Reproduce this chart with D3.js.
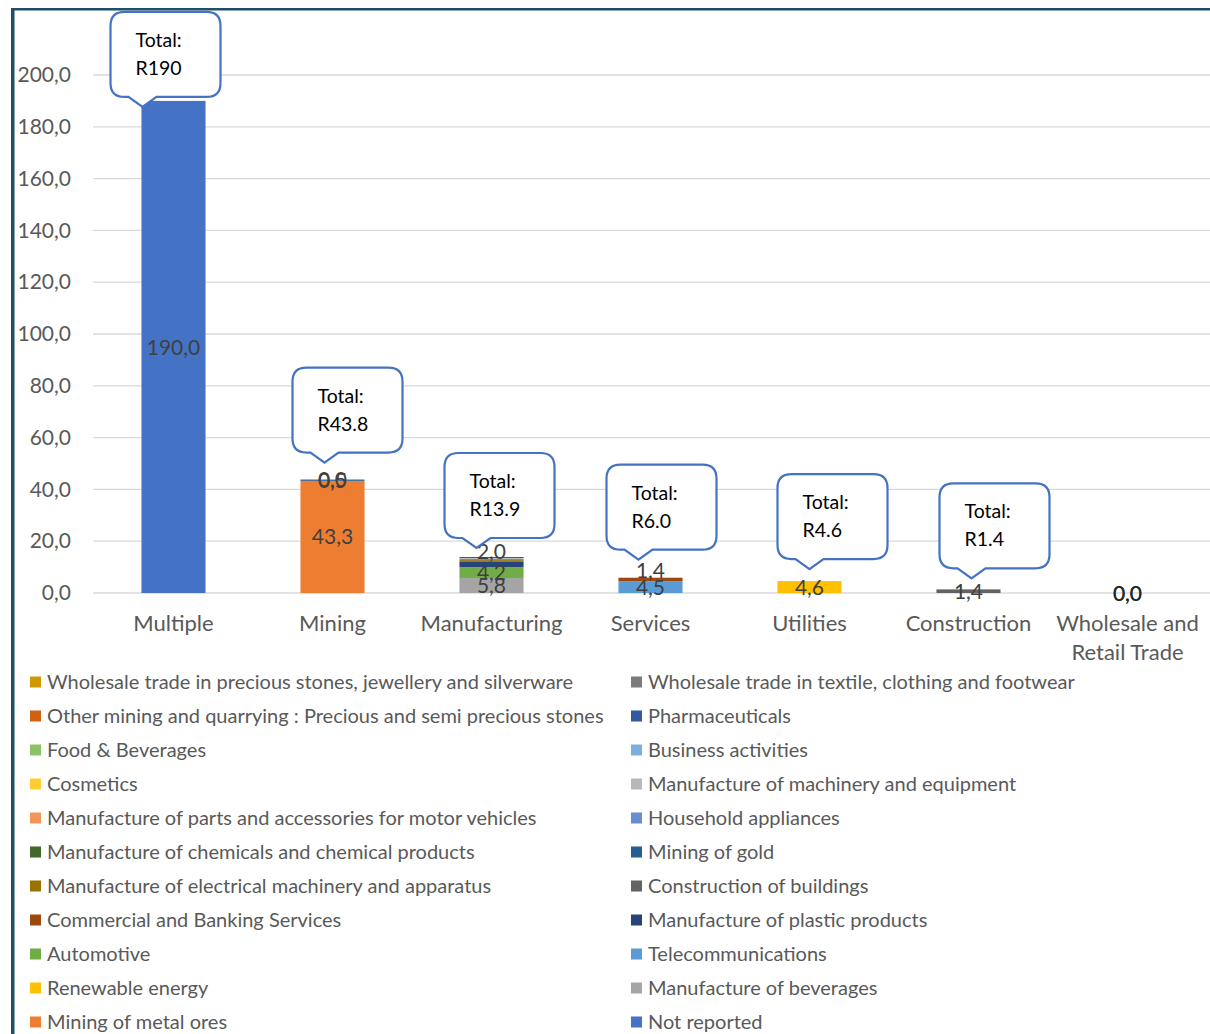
<!DOCTYPE html>
<html>
<head>
<meta charset="utf-8">
<script src="https://cdn.jsdelivr.net/npm/d3@7"></script>
<style>
  html, body { margin: 0; padding: 0; background: #fff; }
  svg { display: block; font-family: Lato, "Open Sans", sans-serif; }
</style>
</head>
<body>
<svg id="chart" width="1210" height="1034"></svg>
<script>
// Industry categories along the x axis
const categories = ["Multiple", "Mining", "Manufacturing", "Services", "Utilities", "Construction", "Wholesale and Retail Trade"];

// Series, in legend order (the stack is built from the last one upwards)
const seriesNames = [
  "Wholesale trade in precious stones, jewellery and silverware",
  "Wholesale trade in textile, clothing and footwear",
  "Other mining and quarrying : Precious and semi precious stones",
  "Pharmaceuticals",
  "Food & Beverages",
  "Business activities",
  "Cosmetics",
  "Manufacture of machinery and equipment",
  "Manufacture of parts and accessories for motor vehicles",
  "Household appliances",
  "Manufacture of chemicals and chemical products",
  "Mining of gold",
  "Manufacture of electrical machinery and apparatus",
  "Construction of buildings",
  "Commercial and Banking Services",
  "Manufacture of plastic products",
  "Automotive",
  "Telecommunications",
  "Renewable energy",
  "Manufacture of beverages",
  "Mining of metal ores",
  "Not reported"
];

// Values (R billion) per series, one entry per category; null = no entry
const seriesValues = [
  [null, null, null, null, null, null, 0.0],
  [null, null, null, null, null, null, 0.0],
  [null, 0.0, null, null, null, null, null],
  [null, null, 0.4, null, null, null, null],
  [null, null, null, null, null, null, null],
  [null, null, null, null, null, null, null],
  [null, null, null, null, null, null, null],
  [null, null, 0.3, null, null, null, null],
  [null, null, null, null, null, null, null],
  [null, null, 0.5, null, null, null, null],
  [null, null, null, null, null, null, null],
  [null, 0.5, null, null, null, null, null],
  [null, null, 0.7, null, null, null, null],
  [null, null, null, null, null, 1.4, null],
  [null, null, null, 1.4, null, null, null],
  [null, null, 2.0, null, null, null, null],
  [null, null, 4.2, null, null, null, null],
  [null, null, null, 4.5, null, null, null],
  [null, null, null, null, 4.6, null, null],
  [null, null, 5.8, null, null, null, null],
  [null, 43.3, null, null, null, null, null],
  [190.0, null, null, null, null, null, null]
];

// Reported totals shown in the callouts
const totalLabels = ["R190", "R43.8", "R13.9", "R6.0", "R4.6", "R1.4", null];

// Y axis ticks
const yTicks = [0, 20, 40, 60, 80, 100, 120, 140, 160, 180, 200];

// Segment colours, in legend order
const seriesColors = [
  "#CC9A00", "#7B7B7B", "#D26012", "#335AA1", "#8CC168", "#7CAFDD",
  "#FFCD33", "#B7B7B7", "#F1975A", "#698ED0", "#43682B", "#255E91",
  "#997300", "#636363", "#9E480E", "#264478", "#70AD47", "#5B9BD5",
  "#FFC000", "#A5A5A5", "#ED7D31", "#4472C4"
];

// Small manufacturing segments carry no value label
const unlabelled = [
  ["Manufacturing", "Pharmaceuticals"],
  ["Manufacturing", "Manufacture of machinery and equipment"],
  ["Manufacturing", "Household appliances"],
  ["Manufacturing", "Manufacture of electrical machinery and apparatus"]
];

// Value labels nudged upwards out of thin segments (pixels)
const labelShift = [
  ["Manufacturing", "Manufacture of plastic products", -13],
  ["Services", "Commercial and Banking Services", -9]
];

// Callout placement: tip offset from bar centre (dx) and from bar top (dy)
const calloutLayout = [
  { dx: -31, dy: 6 }, { dx: -8, dy: -17 }, { dx: -15, dy: -9 },
  { dx: -12, dy: -18 }, { dx: 0, dy: -12 }, { dx: 3, dy: -11 }, null
];

const svg = d3.select("#chart");
const fmt = v => d3.format(".1f")(v).replace(".", ",");

const x = d3.scaleBand()
  .domain(categories)
  .range([94, 1207])
  .paddingInner(0.597)
  .paddingOuter(0.2985);

const y = d3.scaleLinear().domain([0, 200]).range([593, 75]);

// Frame lines
svg.append("rect").attr("x", 11).attr("y", 8).attr("width", 1199).attr("height", 2.5).attr("fill", "#1F4E66");
svg.append("rect").attr("x", 11).attr("y", 8).attr("width", 3.5).attr("height", 1026).attr("fill", "#1F4E66");

// Gridlines
svg.append("g").selectAll("line").data(yTicks).join("line")
  .attr("x1", 93).attr("x2", 1210)
  .attr("y1", d => y(d)).attr("y2", d => y(d))
  .attr("stroke", "#D9D9D9").attr("stroke-width", 1.3);

// Y axis labels
const yAxis = d3.axisLeft(y).tickValues(yTicks).tickFormat(fmt).tickSize(0).tickPadding(0);
const yg = svg.append("g").attr("transform", "translate(71,0)").call(yAxis);
yg.select(".domain").remove();
yg.selectAll("text").attr("fill", "#595959").attr("font-size", 21).attr("font-family", "Lato, sans-serif");

// Stack the data: last legend entry sits at the bottom
const rows = categories.map((c, ci) => {
  const r = { category: c };
  seriesNames.forEach((s, si) => { r[s] = seriesValues[si][ci] || 0; });
  return r;
});
const stackOrder = seriesNames.slice().reverse();
const stacked = d3.stack().keys(stackOrder)(rows);

const barsG = svg.append("g");
stacked.forEach(layer => {
  const si = seriesNames.indexOf(layer.key);
  barsG.append("g").attr("fill", seriesColors[si])
    .selectAll("rect").data(layer.filter(d => d[1] - d[0] > 0)).join("rect")
    .attr("x", d => x(d.data.category))
    .attr("width", x.bandwidth())
    .attr("y", d => y(d[1]))
    .attr("height", d => y(d[0]) - y(d[1]));
});

// Value labels
const labelsG = svg.append("g").attr("font-size", 21).attr("text-anchor", "middle").attr("font-family", "Lato, sans-serif");
stacked.forEach(layer => {
  const si = seriesNames.indexOf(layer.key);
  layer.forEach((d, ci) => {
    const v = seriesValues[si][ci];
    if (v === null) return;
    const cat = categories[ci];
    if (unlabelled.some(u => u[0] === cat && u[1] === layer.key)) return;
    const sh = labelShift.find(u => u[0] === cat && u[1] === layer.key);
    labelsG.append("text")
      .attr("x", x(cat) + x.bandwidth() / 2)
      .attr("y", y((d[0] + d[1]) / 2) + (sh ? sh[2] : 0))
      .attr("dy", "0.36em")
      .attr("fill", cat === "Wholesale and Retail Trade" ? "#262626" : "#404040")
      .text(fmt(v));
  });
});

// Category labels
const catG = svg.append("g").attr("font-size", 22).attr("text-anchor", "middle").attr("fill", "#595959").attr("font-family", "Lato, sans-serif");
categories.forEach(c => {
  const cx = x(c) + x.bandwidth() / 2;
  const lines = c === "Wholesale and Retail Trade" ? ["Wholesale and", "Retail Trade"] : [c];
  lines.forEach((ln, i) => {
    catG.append("text").attr("x", cx).attr("y", 631 + i * 29).text(ln);
  });
});

// Callouts with totals
const bw = 110, bh = 85, rr = 14;
function calloutPath(left, top) {
  const r = left + bw, b = top + bh;
  return `M${left + rr},${top} H${r - rr} Q${r},${top} ${r},${top + rr} V${b - rr} Q${r},${b} ${r - rr},${b}` +
    ` H${left + 46} L${left + 32},${b + 10} L${left + 18},${b} H${left + rr} Q${left},${b} ${left},${b - rr}` +
    ` V${top + rr} Q${left},${top} ${left + rr},${top} Z`;
}
const callG = svg.append("g");
categories.forEach((c, ci) => {
  const lay = calloutLayout[ci];
  if (!lay || !totalLabels[ci]) return;
  const top = d3.max(stacked, l => l[ci][1]);
  const tipX = x(c) + x.bandwidth() / 2 + lay.dx;
  const tipY = y(top) + lay.dy;
  const left = tipX - 32, boxTop = tipY - 10 - bh;
  callG.append("path").attr("d", calloutPath(left, boxTop))
    .attr("fill", "#fff").attr("stroke", "#4472C4").attr("stroke-width", 2.2);
  callG.append("text").attr("x", left + 25).attr("y", boxTop + 35)
    .attr("font-size", 19.5).attr("fill", "#000").text("Total:");
  callG.append("text").attr("x", left + 25).attr("y", boxTop + 63)
    .attr("font-size", 19.5).attr("fill", "#000").text(totalLabels[ci]);
});

// Legend, two columns filled row by row
const legG = svg.append("g").attr("font-size", 20).attr("fill", "#595959").attr("font-family", "Lato, sans-serif");
seriesNames.forEach((s, i) => {
  const col = i % 2, row = Math.floor(i / 2);
  const lx = col === 0 ? 30 : 631;
  const ly = 682 + row * 34;
  legG.append("rect").attr("x", lx).attr("y", ly - 5.5).attr("width", 11).attr("height", 11).attr("fill", seriesColors[i]);
  legG.append("text").attr("x", lx + 17).attr("y", ly).attr("dy", "0.35em").text(s);
});
</script>
</body>
</html>
